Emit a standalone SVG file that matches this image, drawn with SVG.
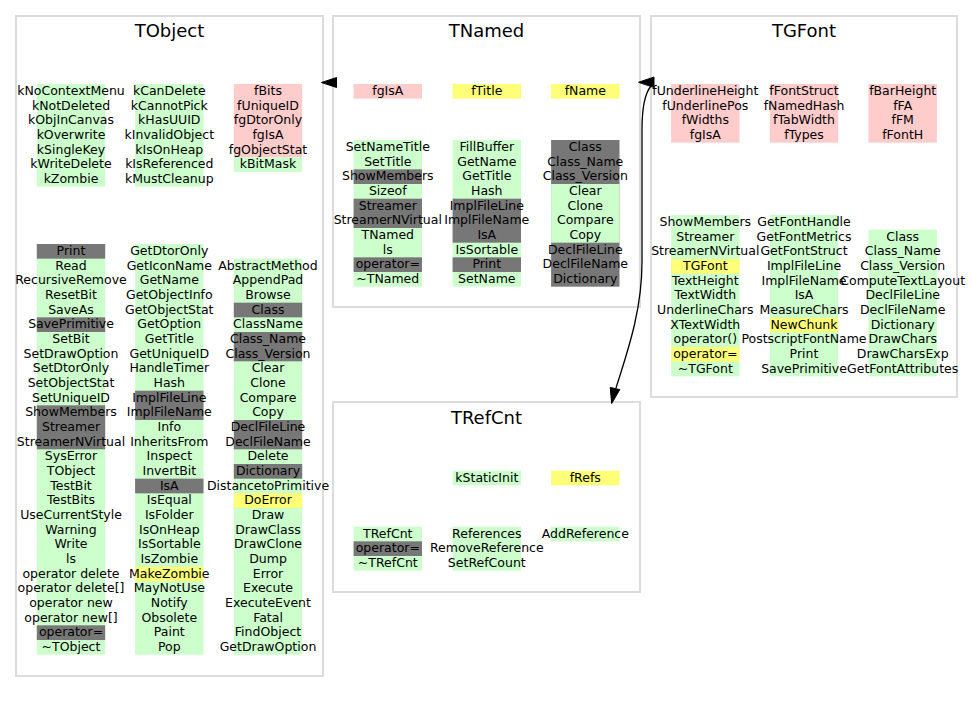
<svg xmlns="http://www.w3.org/2000/svg" width="973" height="703" viewBox="0 0 973 703">
<style>
.box{fill:#fff;stroke:#dcdcdc;stroke-width:2}
.ti{font-family:"DejaVu Sans",sans-serif;font-size:18px;text-anchor:middle;fill:#000}
.t{font-family:"DejaVu Sans",sans-serif;font-size:12.5px;text-anchor:middle;fill:#000}
.g{fill:#ccffcc}.p{fill:#ffcccc}.y{fill:#ffff77}.d{fill:#777777}
.e{fill:none;stroke:#000;stroke-width:1.3}
.ah{fill:#000;stroke:#000}
</style>
<rect width="973" height="703" fill="#fff"/>

<g id="TObject">
<rect class="box" x="16" y="16" width="307" height="660"/>
<text class="ti" x="169.5" y="37">TObject</text>
<rect class="g" x="36.8" y="84" width="68.4" height="102.67"/>
<rect class="g" x="135.1" y="84" width="68.4" height="102.67"/>
<rect class="p" x="233.8" y="84" width="68.4" height="73.33"/>
<rect class="g" x="233.8" y="157.33" width="68.4" height="14.67"/>
<g class="t">
<text x="71" y="95">kNoContextMenu</text><text x="71" y="109.67">kNotDeleted</text><text x="71" y="124.33">kObjInCanvas</text><text x="71" y="139">kOverwrite</text><text x="71" y="153.67">kSingleKey</text><text x="71" y="168.33">kWriteDelete</text><text x="71" y="183">kZombie</text>
<text x="169.3" y="95">kCanDelete</text><text x="169.3" y="109.67">kCannotPick</text><text x="169.3" y="124.33">kHasUUID</text><text x="169.3" y="139">kInvalidObject</text><text x="169.3" y="153.67">kIsOnHeap</text><text x="169.3" y="168.33">kIsReferenced</text><text x="169.3" y="183">kMustCleanup</text>
<text x="268" y="95">fBits</text><text x="268" y="109.67">fUniqueID</text><text x="268" y="124.33">fgDtorOnly</text><text x="268" y="139">fgIsA</text><text x="268" y="153.67">fgObjectStat</text><text x="268" y="168.33">kBitMask</text>
</g>
<rect class="g" x="36.8" y="244" width="68.4" height="410.67"/>
<rect class="d" x="36.8" y="244" width="68.4" height="14.67"/>
<rect class="d" x="36.8" y="317.33" width="68.4" height="14.67"/>
<rect class="d" x="36.8" y="405.33" width="68.4" height="44"/>
<rect class="d" x="36.8" y="625.33" width="68.4" height="14.67"/>
<rect class="g" x="135.1" y="244" width="68.4" height="410.67"/>
<rect class="d" x="135.1" y="390.67" width="68.4" height="29.33"/>
<rect class="d" x="135.1" y="478.67" width="68.4" height="14.67"/>
<rect class="y" x="135.1" y="566.67" width="68.4" height="14.67"/>
<rect class="g" x="233.8" y="258.67" width="68.4" height="396"/>
<rect class="d" x="233.8" y="302.67" width="68.4" height="14.67"/>
<rect class="d" x="233.8" y="332" width="68.4" height="29.33"/>
<rect class="d" x="233.8" y="420" width="68.4" height="29.33"/>
<rect class="d" x="233.8" y="464" width="68.4" height="14.67"/>
<rect class="y" x="233.8" y="493.33" width="68.4" height="14.67"/>
<g class="t">
<text x="71" y="255">Print</text><text x="71" y="269.67">Read</text><text x="71" y="284.33">RecursiveRemove</text><text x="71" y="299">ResetBit</text><text x="71" y="313.67">SaveAs</text><text x="71" y="328.33">SavePrimitive</text><text x="71" y="343">SetBit</text><text x="71" y="357.67">SetDrawOption</text><text x="71" y="372.33">SetDtorOnly</text><text x="71" y="387">SetObjectStat</text><text x="71" y="401.67">SetUniqueID</text><text x="71" y="416.33">ShowMembers</text><text x="71" y="431">Streamer</text><text x="71" y="445.67">StreamerNVirtual</text><text x="71" y="460.33">SysError</text><text x="71" y="475">TObject</text><text x="71" y="489.67">TestBit</text><text x="71" y="504.33">TestBits</text><text x="71" y="519">UseCurrentStyle</text><text x="71" y="533.67">Warning</text><text x="71" y="548.33">Write</text><text x="71" y="563">ls</text><text x="71" y="577.67">operator delete</text><text x="71" y="592.33">operator delete[]</text><text x="71" y="607">operator new</text><text x="71" y="621.67">operator new[]</text><text x="71" y="636.33">operator=</text><text x="71" y="651">~TObject</text>
<text x="169.3" y="255">GetDtorOnly</text><text x="169.3" y="269.67">GetIconName</text><text x="169.3" y="284.33">GetName</text><text x="169.3" y="299">GetObjectInfo</text><text x="169.3" y="313.67">GetObjectStat</text><text x="169.3" y="328.33">GetOption</text><text x="169.3" y="343">GetTitle</text><text x="169.3" y="357.67">GetUniqueID</text><text x="169.3" y="372.33">HandleTimer</text><text x="169.3" y="387">Hash</text><text x="169.3" y="401.67">ImplFileLine</text><text x="169.3" y="416.33">ImplFileName</text><text x="169.3" y="431">Info</text><text x="169.3" y="445.67">InheritsFrom</text><text x="169.3" y="460.33">Inspect</text><text x="169.3" y="475">InvertBit</text><text x="169.3" y="489.67">IsA</text><text x="169.3" y="504.33">IsEqual</text><text x="169.3" y="519">IsFolder</text><text x="169.3" y="533.67">IsOnHeap</text><text x="169.3" y="548.33">IsSortable</text><text x="169.3" y="563">IsZombie</text><text x="169.3" y="577.67">MakeZombie</text><text x="169.3" y="592.33">MayNotUse</text><text x="169.3" y="607">Notify</text><text x="169.3" y="621.67">Obsolete</text><text x="169.3" y="636.33">Paint</text><text x="169.3" y="651">Pop</text>
<text x="268" y="269.67">AbstractMethod</text><text x="268" y="284.33">AppendPad</text><text x="268" y="299">Browse</text><text x="268" y="313.67">Class</text><text x="268" y="328.33">ClassName</text><text x="268" y="343">Class_Name</text><text x="268" y="357.67">Class_Version</text><text x="268" y="372.33">Clear</text><text x="268" y="387">Clone</text><text x="268" y="401.67">Compare</text><text x="268" y="416.33">Copy</text><text x="268" y="431">DeclFileLine</text><text x="268" y="445.67">DeclFileName</text><text x="268" y="460.33">Delete</text><text x="268" y="475">Dictionary</text><text x="268" y="489.67">DistancetoPrimitive</text><text x="268" y="504.33">DoError</text><text x="268" y="519">Draw</text><text x="268" y="533.67">DrawClass</text><text x="268" y="548.33">DrawClone</text><text x="268" y="563">Dump</text><text x="268" y="577.67">Error</text><text x="268" y="592.33">Execute</text><text x="268" y="607">ExecuteEvent</text><text x="268" y="621.67">Fatal</text><text x="268" y="636.33">FindObject</text><text x="268" y="651">GetDrawOption</text>
</g>
</g>

<g id="TNamed">
<rect class="box" x="333" y="16" width="307" height="291"/>
<text class="ti" x="486.5" y="37">TNamed</text>
<rect class="p" x="353.6" y="84" width="68.4" height="14.67"/>
<rect class="y" x="452.6" y="84" width="68.4" height="14.67"/>
<rect class="y" x="551.1" y="84" width="68.4" height="14.67"/>
<rect class="g" x="353.6" y="140" width="68.4" height="146.67"/>
<rect class="d" x="353.6" y="169.33" width="68.4" height="14.67"/>
<rect class="d" x="353.6" y="198.67" width="68.4" height="29.33"/>
<rect class="d" x="353.6" y="257.33" width="68.4" height="14.67"/>
<rect class="g" x="452.6" y="140" width="68.4" height="146.67"/>
<rect class="d" x="452.6" y="198.67" width="68.4" height="44"/>
<rect class="d" x="452.6" y="257.33" width="68.4" height="14.67"/>
<rect class="d" x="551.1" y="140" width="68.4" height="146.67"/>
<rect class="g" x="551.1" y="184" width="68.4" height="58.67"/>
<g class="t">
<text x="387.8" y="95">fgIsA</text><text x="486.8" y="95">fTitle</text><text x="585.3" y="95">fName</text>
<text x="387.8" y="151">SetNameTitle</text><text x="387.8" y="165.67">SetTitle</text><text x="387.8" y="180.33">ShowMembers</text><text x="387.8" y="195">Sizeof</text><text x="387.8" y="209.67">Streamer</text><text x="387.8" y="224.33">StreamerNVirtual</text><text x="387.8" y="239">TNamed</text><text x="387.8" y="253.67">ls</text><text x="387.8" y="268.33">operator=</text><text x="387.8" y="283">~TNamed</text>
<text x="486.8" y="151">FillBuffer</text><text x="486.8" y="165.67">GetName</text><text x="486.8" y="180.33">GetTitle</text><text x="486.8" y="195">Hash</text><text x="486.8" y="209.67">ImplFileLine</text><text x="486.8" y="224.33">ImplFileName</text><text x="486.8" y="239">IsA</text><text x="486.8" y="253.67">IsSortable</text><text x="486.8" y="268.33">Print</text><text x="486.8" y="283">SetName</text>
<text x="585.3" y="151">Class</text><text x="585.3" y="165.67">Class_Name</text><text x="585.3" y="180.33">Class_Version</text><text x="585.3" y="195">Clear</text><text x="585.3" y="209.67">Clone</text><text x="585.3" y="224.33">Compare</text><text x="585.3" y="239">Copy</text><text x="585.3" y="253.67">DeclFileLine</text><text x="585.3" y="268.33">DeclFileName</text><text x="585.3" y="283">Dictionary</text>
</g>
</g>

<g id="TGFont">
<rect class="box" x="651" y="16" width="306" height="381"/>
<text class="ti" x="804" y="37">TGFont</text>
<rect class="p" x="671.1" y="84" width="68.4" height="58.67"/>
<rect class="p" x="769.8" y="84" width="68.4" height="58.67"/>
<rect class="p" x="868.5" y="84" width="68.4" height="58.67"/>
<rect class="g" x="671.1" y="215" width="68.4" height="161.33"/>
<rect class="y" x="671.1" y="259" width="68.4" height="14.67"/>
<rect class="y" x="671.1" y="347" width="68.4" height="14.67"/>
<rect class="g" x="769.8" y="215" width="68.4" height="161.33"/>
<rect class="y" x="769.8" y="317.67" width="68.4" height="14.67"/>
<rect class="g" x="868.5" y="229.67" width="68.4" height="146.67"/>
<g class="t">
<text x="705.3" y="95">fUnderlineHeight</text><text x="705.3" y="109.67">fUnderlinePos</text><text x="705.3" y="124.33">fWidths</text><text x="705.3" y="139">fgIsA</text>
<text x="804" y="95">fFontStruct</text><text x="804" y="109.67">fNamedHash</text><text x="804" y="124.33">fTabWidth</text><text x="804" y="139">fTypes</text>
<text x="902.7" y="95">fBarHeight</text><text x="902.7" y="109.67">fFA</text><text x="902.7" y="124.33">fFM</text><text x="902.7" y="139">fFontH</text>
<text x="705.3" y="226">ShowMembers</text><text x="705.3" y="240.67">Streamer</text><text x="705.3" y="255.33">StreamerNVirtual</text><text x="705.3" y="270">TGFont</text><text x="705.3" y="284.67">TextHeight</text><text x="705.3" y="299.33">TextWidth</text><text x="705.3" y="314">UnderlineChars</text><text x="705.3" y="328.67">XTextWidth</text><text x="705.3" y="343.33">operator()</text><text x="705.3" y="358">operator=</text><text x="705.3" y="372.67">~TGFont</text>
<text x="804" y="226">GetFontHandle</text><text x="804" y="240.67">GetFontMetrics</text><text x="804" y="255.33">GetFontStruct</text><text x="804" y="270">ImplFileLine</text><text x="804" y="284.67">ImplFileName</text><text x="804" y="299.33">IsA</text><text x="804" y="314">MeasureChars</text><text x="804" y="328.67">NewChunk</text><text x="804" y="343.33">PostscriptFontName</text><text x="804" y="358">Print</text><text x="804" y="372.67">SavePrimitive</text>
<text x="902.7" y="240.67">Class</text><text x="902.7" y="255.33">Class_Name</text><text x="902.7" y="270">Class_Version</text><text x="902.7" y="284.67">ComputeTextLayout</text><text x="902.7" y="299.33">DeclFileLine</text><text x="902.7" y="314">DeclFileName</text><text x="902.7" y="328.67">Dictionary</text><text x="902.7" y="343.33">DrawChars</text><text x="902.7" y="358">DrawCharsExp</text><text x="902.7" y="372.67">GetFontAttributes</text>
</g>
</g>

<g id="TRefCnt">
<rect class="box" x="333" y="402" width="307" height="190"/>
<text class="ti" x="486.5" y="424">TRefCnt</text>
<rect class="g" x="452.6" y="470.67" width="68.4" height="14.67"/>
<rect class="y" x="551.1" y="470.67" width="68.4" height="14.67"/>
<rect class="g" x="353.6" y="526.67" width="68.4" height="44"/>
<rect class="d" x="353.6" y="541.33" width="68.4" height="14.67"/>
<rect class="g" x="452.6" y="526.67" width="68.4" height="44"/>
<rect class="g" x="551.1" y="526.67" width="68.4" height="14.67"/>
<g class="t">
<text x="486.8" y="481.67">kStaticInit</text><text x="585.3" y="481.67">fRefs</text>
<text x="387.8" y="537.67">TRefCnt</text><text x="387.8" y="552.33">operator=</text><text x="387.8" y="567">~TRefCnt</text>
<text x="486.8" y="537.67">References</text><text x="486.8" y="552.33">RemoveReference</text><text x="486.8" y="567">SetRefCount</text>
<text x="585.3" y="537.67">AddReference</text>
</g>
</g>

<g id="connectors">
<polygon class="ah" points="321.5,82.5 336.5,77.5 336.5,87.5"/>
<polygon class="ah" points="638.5,82.3 654,77 654,87.5"/>
<path class="e" d="M 651,86 C 645,93 642,105 642,130 L 642,262 C 642,310 628,350 616,388"/>
<polygon class="ah" points="611.7,403.5 610.2,387.4 619.8,389.6"/>
</g>
</svg>
